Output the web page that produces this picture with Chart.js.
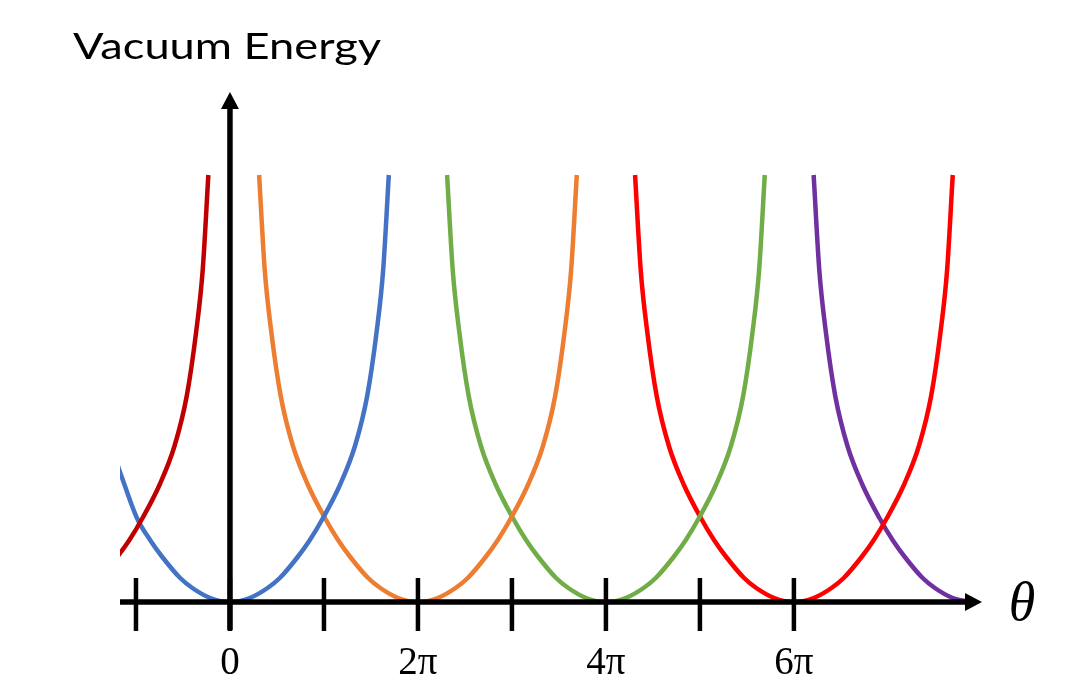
<!DOCTYPE html>
<html>
<head>
<meta charset="utf-8">
<script src="https://cdn.jsdelivr.net/npm/chart.js@4.4.0/dist/chart.umd.min.js"></script>
<style>
  html, body { margin: 0; padding: 0; background: #fff; }
  #wrap { width: 1068px; height: 696px; }
</style>
</head>
<body>
<div id="wrap"><canvas id="chart" width="1068" height="696"></canvas></div>
<script>
// theta in units of pi, energy in arbitrary units
const energyFull = [4.27, 3.32, 2.70, 2.06, 1.56, 1.17, 0.84, 0.62, 0.45, 0.24, 0.14, 0.04, 0,
                    0.04, 0.14, 0.24, 0.45, 0.62, 0.84, 1.17, 1.56, 2.06, 2.70, 3.32, 4.27];

const thetaDarkRed = [-1.39, -1.20, -1.07, -0.93, -0.75, -0.59, -0.46, -0.36, -0.29, -0.23];
const energyDarkRed = [0.24, 0.45, 0.62, 0.84, 1.17, 1.56, 2.06, 2.70, 3.32, 4.27];

const thetaBlue = [-1.33, -1.17, -0.99, -0.85, -0.72, -0.53, -0.40, -0.21, 0,
                   0.21, 0.40, 0.53, 0.72, 0.85, 0.99, 1.17, 1.33, 1.46, 1.56, 1.63, 1.69];
const energyBlue = [1.72, 1.30, 0.84, 0.62, 0.45, 0.24, 0.14, 0.04, 0,
                    0.04, 0.14, 0.24, 0.45, 0.62, 0.84, 1.17, 1.56, 2.06, 2.70, 3.32, 4.27];

const thetaOrange = [0.31, 0.37, 0.44, 0.54, 0.67, 0.83, 1.01, 1.15, 1.28, 1.47, 1.60, 1.79, 2,
                     2.21, 2.40, 2.53, 2.72, 2.85, 2.99, 3.17, 3.33, 3.46, 3.56, 3.63, 3.69];
const thetaGreen = [2.31, 2.37, 2.44, 2.54, 2.67, 2.83, 3.01, 3.15, 3.28, 3.47, 3.60, 3.79, 4,
                    4.21, 4.40, 4.53, 4.72, 4.85, 4.99, 5.17, 5.33, 5.46, 5.56, 5.63, 5.69];
const thetaRed = [4.31, 4.37, 4.44, 4.54, 4.67, 4.83, 5.01, 5.15, 5.28, 5.47, 5.60, 5.79, 6,
                  6.21, 6.40, 6.53, 6.72, 6.85, 6.99, 7.17, 7.33, 7.46, 7.56, 7.63, 7.69];

const thetaPurple = [6.21, 6.27, 6.34, 6.44, 6.57, 6.73, 6.91, 7.05, 7.18, 7.37, 7.50, 7.69, 7.90];
const energyPurple = [4.27, 3.32, 2.70, 2.06, 1.56, 1.17, 0.84, 0.62, 0.45, 0.24, 0.14, 0.04, 0];

const tickValues = [-1, 0, 1, 2, 3, 4, 5, 6];
const tickLabels = { 0: '0', 2: '2\u03C0', 4: '4\u03C0', 6: '6\u03C0' };

function pts(xs, ys) {
  return xs.map((t, i) => ({ x: t, y: ys[i] }));
}

function curve(xs, ys, color) {
  return {
    data: pts(xs, ys),
    borderColor: color,
    borderWidth: 4.5,
    pointRadius: 0,
    fill: false,
    cubicInterpolationMode: 'monotone'
  };
}

// axes with arrows, tick marks, theta and the title
const arrowAxes = {
  id: 'arrowAxes',
  afterDatasetsDraw(chart) {
    const { ctx, scales: { x, y } } = chart;
    const x0 = x.getPixelForValue(0);
    const y0 = y.getPixelForValue(0);
    ctx.save();
    ctx.strokeStyle = '#000';
    ctx.fillStyle = '#000';
    ctx.lineWidth = 5.5;

    // horizontal axis
    ctx.beginPath();
    ctx.moveTo(x.left, y0);
    ctx.lineTo(x.right - 12, y0);
    ctx.stroke();
    ctx.beginPath();
    ctx.moveTo(x.right + 2, y0);
    ctx.lineTo(x.right - 15, y0 - 9);
    ctx.lineTo(x.right - 15, y0 + 9);
    ctx.closePath();
    ctx.fill();

    // vertical axis
    ctx.beginPath();
    ctx.moveTo(x0, y0 + 28);
    ctx.lineTo(x0, y.top + 12);
    ctx.stroke();
    ctx.beginPath();
    ctx.moveTo(x0, y.top);
    ctx.lineTo(x0 - 9, y.top + 17);
    ctx.lineTo(x0 + 9, y.top + 17);
    ctx.closePath();
    ctx.fill();

    // tick marks
    ctx.lineWidth = 4.5;
    tickValues.forEach(v => {
      const px = x.getPixelForValue(v);
      ctx.beginPath();
      ctx.moveTo(px, y0 - 24);
      ctx.lineTo(px, y0 + 29);
      ctx.stroke();
    });

    // theta
    ctx.font = 'italic 54px "Liberation Serif", serif';
    ctx.textAlign = 'center';
    ctx.textBaseline = 'middle';
    ctx.fillText('\u03B8', x.right + 42, y0 + 4);

    // title
    ctx.font = '37px Lato, sans-serif';
    ctx.textAlign = 'left';
    ctx.textBaseline = 'alphabetic';
    const title = 'Vacuum Energy';
    const w = ctx.measureText(title).width;
    ctx.translate(73, 59);
    ctx.scale(308 / w, 1);
    ctx.fillText(title, 0, 0);
    ctx.restore();
  }
};

const ctx = document.getElementById('chart').getContext('2d');
const chart = new Chart(ctx, {
  type: 'line',
  data: {
    datasets: [
      curve(thetaDarkRed, energyDarkRed, '#C00000'),
      curve(thetaBlue, energyBlue, '#4472C4'),
      curve(thetaOrange, energyFull, '#ED7D31'),
      curve(thetaGreen, energyFull, '#70AD47'),
      curve(thetaRed, energyFull, '#FF0000'),
      curve(thetaPurple, energyPurple, '#7030A0')
    ]
  },
  options: {
    responsive: false,
    animation: false,
    layout: { padding: { left: 120, right: 88, top: 92, bottom: 0 } },
    scales: {
      x: {
        type: 'linear',
        min: -1.17,
        max: 7.98,
        grid: { display: false, drawTicks: false },
        border: { display: false },
        afterBuildTicks: scale => {
          scale.ticks = tickValues.map(v => ({ value: v }));
        },
        afterFit: scale => { scale.height = 94; },
        ticks: {
          autoSkip: false,
          maxRotation: 0,
          padding: 38,
          color: '#000',
          font: { family: '"Liberation Serif", serif', size: 39 },
          callback: value => tickLabels[value] || ''
        }
      },
      y: {
        display: false,
        min: 0,
        max: 5.1
      }
    },
    plugins: {
      legend: { display: false },
      tooltip: { enabled: false }
    }
  },
  plugins: [arrowAxes]
});
</script>
</body>
</html>
